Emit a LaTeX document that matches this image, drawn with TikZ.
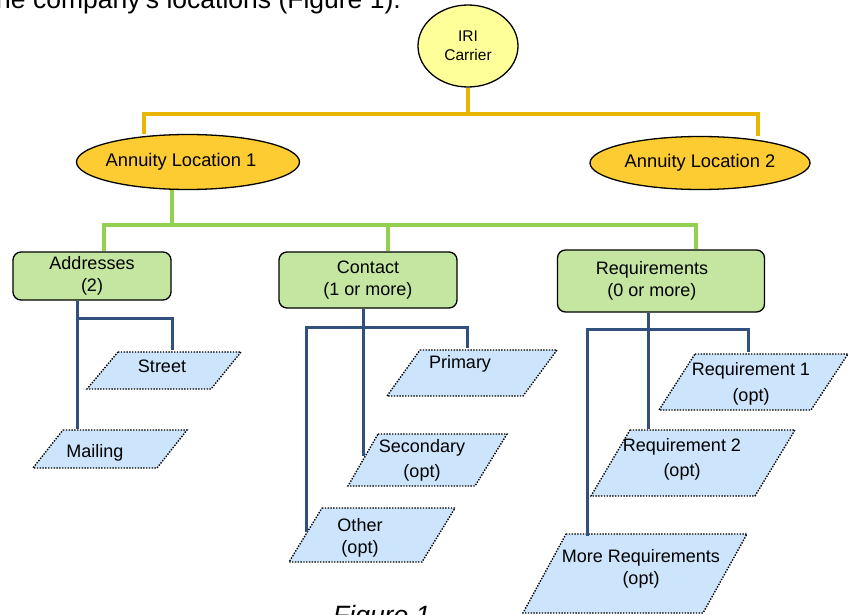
\documentclass[tikz,border=0pt]{standalone}
\usepackage{fontspec}
\setmainfont{Liberation Sans}
\usetikzlibrary{shapes.geometric}
\definecolor{goldline}{RGB}{232,182,0}
\definecolor{locfill}{RGB}{253,203,50}
\definecolor{irifill}{RGB}{255,255,153}
\definecolor{greenline}{RGB}{146,208,80}
\definecolor{boxfill}{RGB}{196,230,160}
\definecolor{navyline}{RGB}{50,80,125}
\definecolor{parafill}{RGB}{204,228,252}
\begin{document}
\begin{tikzpicture}[x=1pt,y=-1pt,
  txt/.style={font=\fontsize{18}{22}\selectfont, align=center, inner sep=0pt},
  oval/.style={ellipse, draw, line width=1.3pt, inner sep=0pt, align=center},
  catbox/.style={draw, line width=1.3pt, rounded corners=8pt, fill=boxfill, inner sep=0pt, align=center, font=\fontsize{18}{22}\selectfont},
  goldconn/.style={draw=goldline, line width=4pt},
  greenconn/.style={draw=greenline, line width=4pt},
  navyconn/.style={draw=navyline, line width=3pt},
  para/.style={fill=parafill, draw=black, line width=1.4pt, dash pattern=on 1.4pt off 1.4pt},
]
\path[use as bounding box] (0,0) rectangle (857,615);
\clip (0,0) rectangle (857,615);

% intro text and caption
\node[anchor=base east, font=\fontsize{26.5}{30}\selectfont, inner sep=0pt] (intro) at (401,8.5) {the company's locations (Figure 1).};
\node[anchor=base west, font=\fontsize{26.5}{30}\selectfont\itshape, inner sep=0pt] (caption) at (333,624) {Figure 1};

% top level
\node[oval, fill=irifill, minimum width=100pt, minimum height=82pt, font=\fontsize{15.5}{19}\selectfont] (iri) at (468,46) {IRI\\Carrier};
\node[oval, fill=locfill, minimum width=223pt, minimum height=55pt, font=\fontsize{18.3}{22}\selectfont] (al1) at (188,162) {\hspace*{-14pt}Annuity Location 1};
\node[oval, fill=locfill, minimum width=220pt, minimum height=53pt, font=\fontsize{18.3}{22}\selectfont] (al2) at (700,163) {Annuity Location 2};

% category boxes
\node[catbox, minimum width=158pt, minimum height=48pt] (addr) at (92,276) {Addresses\\(2)};
\node[catbox, minimum width=178pt, minimum height=56pt] (cont) at (368,280) {Contact\\(1 or more)};
\node[catbox, minimum width=207pt, minimum height=62pt] (reqs) at (661,281) {\hspace*{-18pt}Requirements\\\hspace*{-18pt}(0 or more)};

% parallelograms
\draw[para] (118,352) -- (241,352) -- (211,389) -- (87,389) -- cycle;
\draw[para] (63,430) -- (187,430) -- (157,468) -- (33,468) -- cycle;
\draw[para] (420,350) -- (557,350) -- (523,396) -- (387,396) -- cycle;
\draw[para] (378,434) -- (507,434) -- (475,486) -- (348,486) -- cycle;
\draw[para] (322,508) -- (455,508) -- (422,562) -- (289,562) -- cycle;
\draw[para] (695,354) -- (848,354) -- (811,410) -- (659,410) -- cycle;
\draw[para] (630,430) -- (795,430) -- (755,496) -- (591,496) -- cycle;
\draw[para] (566,534) -- (747,534) -- (703,613) -- (523,613) -- cycle;

\node[txt] (street) at (162,366.5) {Street};
\node[txt] (mailing) at (95,452.4) {Mailing};
\node[txt] (primary) at (460,363.4) {Primary};
\node[txt] (secondary) at (422,460.5) {Secondary\\[3pt](opt)};
\node[txt] (other) at (360,538) {Other\\(opt)};
\node[txt] (req1) at (751,384) {Requirement 1\\[4pt](opt)};
\node[txt] (req2) at (682,459.5) {Requirement 2\\[3pt](opt)};
\node[txt] (morereq) at (641,569) {More Requirements\\(opt)};

% attachment points
\coordinate (mailtop) at (77,429);
\coordinate (streettop) at (172,350);
\coordinate (secleft) at (363,456);
\coordinate (othleft) at (306,532);
\coordinate (primtop) at (467,348);
\coordinate (r2top) at (648,429);
\coordinate (r1top) at (748,352);
\coordinate (mrtop) at (587,536);
\coordinate (gjoin) at (172,225);

% gold connectors
\draw[goldconn] (iri.south) -- ++(0,26) -| ([xshift=-44pt]al1.north);
\draw[goldconn] (iri.south) -- ++(0,26) -| ([xshift=58pt]al2.north);

% green connectors
\draw[greenconn] (al1.south -| gjoin) -- (gjoin);
\draw[greenconn] (gjoin) -| ([xshift=12pt]addr.north);
\draw[greenconn] (gjoin) -| ([xshift=20pt]cont.north);
\draw[greenconn] (gjoin) -| ([xshift=35pt]reqs.north);

% navy connectors
\draw[navyconn] (addr.south -| mailtop) -- (mailtop);
\draw[navyconn] (addr.south -| mailtop) ++(0,18) -| (streettop);
\draw[navyconn] (cont.south -| secleft) -- (secleft);
\draw[navyconn] (cont.south -| secleft) ++(0,19) -| (othleft);
\draw[navyconn] (cont.south -| secleft) ++(0,19) -| (primtop);
\draw[navyconn] (reqs.south -| r2top) -- (r2top);
\draw[navyconn] (reqs.south -| r2top) ++(0,17) -| (r1top);
\draw[navyconn] (reqs.south -| r2top) ++(0,17) -| (mrtop);
\end{tikzpicture}
\end{document}
